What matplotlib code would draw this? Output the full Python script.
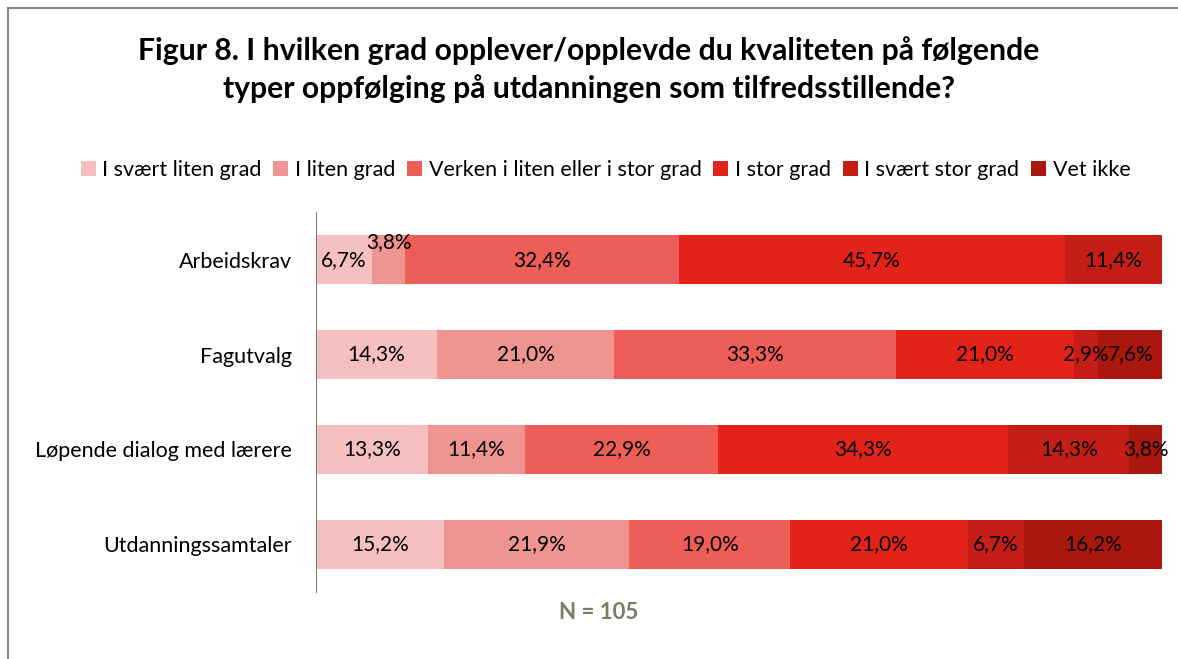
import numpy as np
import matplotlib.pyplot as plt
from matplotlib.lines import Line2D

plt.rcParams['font.family'] = ['Lato', 'DejaVu Sans']

categories = ["Arbeidskrav", "Fagutvalg", "Løpende dialog med lærere", "Utdanningssamtaler"]
series = ["I svært liten grad", "I liten grad", "Verken i liten eller i stor grad",
          "I stor grad", "I svært stor grad", "Vet ikke"]
svaert_liten = [6.7, 14.3, 13.3, 15.2]
liten = [3.8, 21.0, 11.4, 21.9]
verken = [32.4, 33.3, 22.9, 19.0]
stor = [45.7, 21.0, 34.3, 21.0]
svaert_stor = [11.4, 2.9, 14.3, 6.7]
vet_ikke = [0.0, 7.6, 3.8, 16.2]
values = [svaert_liten, liten, verken, stor, svaert_stor, vet_ikke]
colors = ["#F5C0BF", "#EE9592", "#EE5E58", "#E3231A", "#C51E17", "#A9170F"]

fig = plt.figure(figsize=(11.78, 6.59), dpi=100)
ax = fig.add_axes([0.268, 0.102, 0.718, 0.576])

y = np.arange(len(categories))
left = np.zeros(len(categories))
for name, vals, col in zip(series, values, colors):
    vals = np.array(vals)
    ax.barh(y, vals, left=left, height=0.52, color=col, label=name, edgecolor='none')
    for i, v in enumerate(vals):
        if v <= 0:
            continue
        yy = y[i]
        # Excel nudged this label up
        if i == 0 and name == "I liten grad":
            yy = y[i] - 0.18
        ax.text(left[i] + v / 2, yy, f"{v:.1f}%".replace(".", ","),
                ha='center', va='center', fontsize=15, color='black')
    left += vals

ax.set_xlim(0, 100)
ax.set_ylim(3.5, -0.5)
ax.set_yticks(y)
ax.set_yticklabels(categories, fontsize=15.5)
ax.tick_params(axis='y', length=0, pad=17)
ax.set_xticks([])
for s in ['top', 'right', 'bottom']:
    ax.spines[s].set_visible(False)
ax.spines['left'].set_color('#808080')

fig.text(0.5, 0.924, "Figur 8. I hvilken grad opplever/opplevde du kvaliteten på følgende",
         ha='center', va='center', fontsize=21.7, fontweight='bold')
fig.text(0.5, 0.866, "typer oppfølging på utdanningen som tilfredsstillende?",
         ha='center', va='center', fontsize=21.7, fontweight='bold')

fig.legend(loc='center', bbox_to_anchor=(0.514, 0.742), ncol=6, frameon=False,
           fontsize=15.5, handlelength=0.7, handleheight=0.7, handletextpad=0.3,
           columnspacing=0.55)

fig.text(0.508, 0.071, "N = 105", ha='center', va='center', fontsize=16,
         fontweight='bold', color='#7B7B66')

# chart border (left and top visible)
fig.add_artist(Line2D([0.0065, 0.0065], [0, 0.988], transform=fig.transFigure,
                      color='#8A8A8A', lw=1.5))
fig.add_artist(Line2D([0.0065, 1.0], [0.988, 0.988], transform=fig.transFigure,
                      color='#8A8A8A', lw=1.5))

fig.savefig("out.png", dpi=100)
